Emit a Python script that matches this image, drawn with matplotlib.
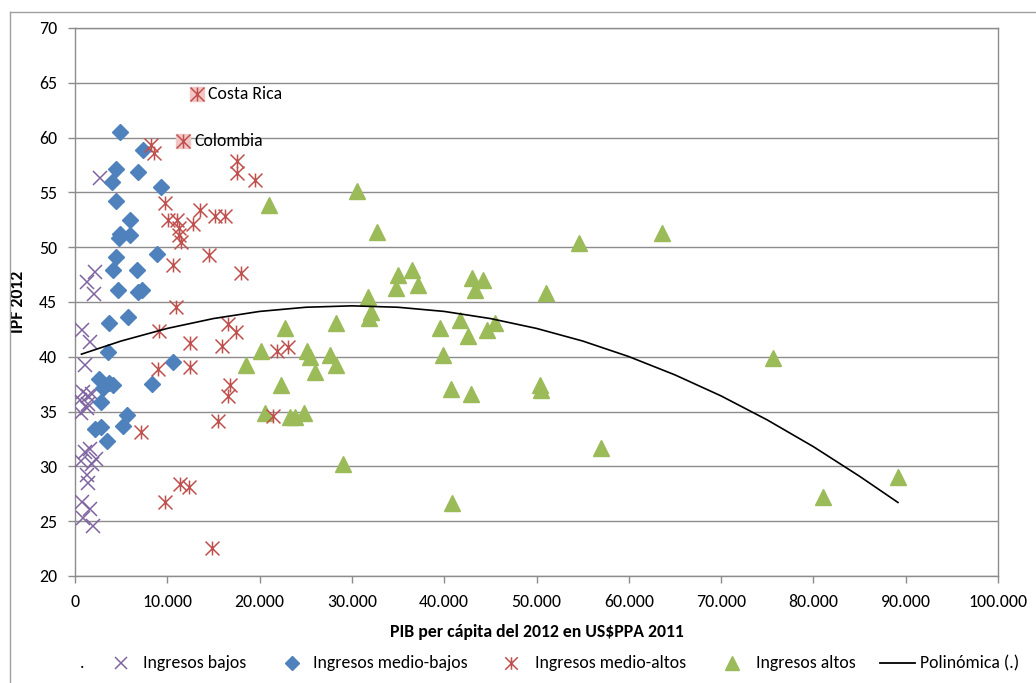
import matplotlib
matplotlib.use("Agg")
import matplotlib.pyplot as plt
from matplotlib.path import Path
from matplotlib.lines import Line2D

plt.rcParams['font.family'] = ['Carlito', 'Lato', 'DejaVu Sans']

# ---------------- data ----------------
x_low = [2740, 2190, 1320, 2090, 760, 1620, 1120, 870, 1420, 500, 1320, 1800, 1620, 1100,
         2230, 700, 1800, 1320, 1420, 760, 1620, 870, 1960, 1400, 650]
y_low = [56.3, 47.75, 46.85, 45.75, 42.45, 41.35, 39.25, 36.75, 36.45, 36.05, 35.35, 36.65,
         31.55, 31.35, 30.65, 30.45, 30.25, 29.25, 28.45, 26.75, 26.15, 25.25, 24.55, 35.65,
         34.85]

x_midlow = [4870, 7320, 4400, 6860, 3970, 9270, 4400, 5950, 4870, 5950, 4790, 4400, 8840, 4150,
            6680, 4690, 6860, 7220, 3720, 5700, 3610, 10640, 2600, 3720, 3070, 8300, 2780,
            5590, 2170, 2780, 5160, 3420, 4070]
y_midlow = [60.55, 58.85, 57.15, 56.85, 55.95, 55.45, 54.25, 52.45, 51.25, 51.15, 50.85, 49.15,
            49.35, 47.95, 47.95, 46.05, 45.95, 46.05, 43.05, 43.65, 40.45, 39.55, 37.95, 37.65,
            37.15, 37.55, 35.85, 34.65, 33.45, 33.55, 33.65, 32.35, 37.45]

x_midhigh = [8230, 8550, 17500, 17500, 19490, 9750, 13530, 15160, 16240, 10100, 11010, 12800,
             11280, 11280, 11440, 14500, 10640, 17980, 10900, 9120, 16590, 17400, 12450, 15880,
             9020, 12450, 16780, 16590, 7150, 15450, 11370, 12340, 9750, 14790, 21480, 21900,
             23030]
y_midhigh = [59.35, 58.55, 57.85, 56.75, 56.15, 54.05, 53.35, 52.85, 52.85, 52.45, 52.45, 52.15,
             51.75, 51.15, 50.45, 49.25, 48.35, 47.65, 44.55, 42.35, 42.95, 42.25, 41.25, 40.95,
             38.85, 39.05, 37.45, 36.45, 33.15, 34.15, 28.35, 28.15, 26.75, 22.55, 34.6, 40.5,
             40.9]

x_high = [30510, 21040, 32740, 35010, 36500, 34730, 37180, 31700, 32020, 31870, 28270, 22740,
          20110, 25090, 25450, 27620, 28270, 25990, 18520, 22280, 20580, 23280, 23830, 24830,
          28990, 42960, 44220, 43320, 50980, 41700, 45490, 39530, 44650, 42590, 39820, 50360,
          50470, 40720, 42850, 40830, 54580, 63650, 56970, 75630, 89160, 81040]
y_high = [55.1, 53.85, 51.4, 47.5, 47.9, 46.25, 46.55, 45.5, 44.1, 43.5, 43.05, 42.6,
          40.55, 40.5, 40.0, 40.15, 39.25, 38.65, 39.25, 37.4, 34.85, 34.5, 34.5, 34.85,
          30.2, 47.15, 47.0, 46.1, 45.85, 43.4, 43.05, 42.6, 42.4, 41.9, 40.2, 37.4,
          37.0, 37.05, 36.6, 26.65, 50.35, 51.3, 31.7, 39.9, 29.0, 27.2]

hl_names = ['Costa Rica', 'Colombia']
hl_x = [13180, 11680]
hl_y = [64.0, 59.7]

trend_x = [700, 5000, 10000, 15000, 20000, 25000, 30000, 35000, 40000, 45000, 50000,
           55000, 60000, 65000, 70000, 75000, 80000, 85000, 89160]
trend_y = [40.24, 41.44, 42.59, 43.49, 44.14, 44.52, 44.65, 44.52, 44.14, 43.49, 42.59,
           41.44, 40.02, 38.35, 36.43, 34.24, 31.80, 29.10, 26.71]

x_ticks = list(range(0, 100001, 10000))
y_ticks = list(range(20, 71, 5))
legend_labels = ['.', 'Ingresos bajos', 'Ingresos medio-bajos', 'Ingresos medio-altos',
                 'Ingresos altos', 'Polinómica (.)']

# ---------------- style ----------------
C_LOW = '#8064A2'
C_MLOW = '#4F81BD'
C_MHIGH = '#C0504D'
C_HIGH = '#9BBB59'
C_GRID = '#8c8c8c'
FS = 12.8

asterisk = Path([(-1, -1), (1, 1), (-1, 1), (1, -1), (0, -1), (0, 1)],
                [Path.MOVETO, Path.LINETO] * 3)

W, H = 1036, 683
fig = plt.figure(figsize=(W / 100, H / 100), dpi=100)
ax = fig.add_axes([75 / W, 1 - 576 / H, (998 - 75) / W, (576 - 28) / H])

ax.plot(x_low, y_low, ls='none', marker='x', ms=10, mew=1.1, color=C_LOW, zorder=3)
ax.plot(x_midlow, y_midlow, ls='none', marker='D', ms=8, color=C_MLOW, mec=C_MLOW, zorder=3)
ax.plot(x_midhigh, y_midhigh, ls='none', marker=asterisk, ms=10, mew=1.1, mfc='none',
        mec=C_MHIGH, zorder=4)
ax.plot(x_high, y_high, ls='none', marker='^', ms=11, color=C_HIGH, mec=C_HIGH, zorder=3)

# highlighted countries
ax.plot(hl_x, hl_y, ls='none', marker='s', ms=10, color='#F2C6C5', mec='#F2C6C5', zorder=4)
ax.plot(hl_x, hl_y, ls='none', marker=asterisk, ms=10, mew=1.1, mfc='none', mec=C_MHIGH,
        zorder=5)
for name, xv, yv in zip(hl_names, hl_x, hl_y):
    ax.annotate(name, (xv, yv), xytext=(8, 0), textcoords='offset points',
                va='center', ha='left', fontsize=FS, color='black', zorder=6)

ax.plot(trend_x, trend_y, color='black', lw=1.2, zorder=6)

ax.set_xlim(0, 100000)
ax.set_ylim(20, 70)
ax.set_xticks(x_ticks)
ax.set_xticklabels([f"{v:,}".replace(',', '.') for v in x_ticks])
ax.set_yticks(y_ticks)
ax.set_yticklabels([str(v) for v in y_ticks])
ax.tick_params(axis='both', direction='out', length=5, width=1, color=C_GRID,
               labelsize=FS, labelcolor='black')
ax.tick_params(axis='y', pad=8)
ax.tick_params(axis='x', pad=8)
ax.yaxis.grid(True, color=C_GRID, lw=1)
ax.xaxis.grid(False)
ax.set_axisbelow(True)
for s in ax.spines.values():
    s.set_color(C_GRID)
    s.set_linewidth(1)

ax.set_xlabel('PIB per cápita del 2012 en US$PPA 2011', fontsize=FS, fontweight='bold',
              labelpad=10)
ax.set_ylabel('IPF 2012', fontsize=FS, fontweight='bold', labelpad=9)

# chart border (cropped)
fig.add_artist(Line2D([10 / W, 1], [1 - 12 / H, 1 - 12 / H], transform=fig.transFigure,
                      color='#a0a0a0', lw=1))
fig.add_artist(Line2D([10 / W, 10 / W], [0, 1 - 12 / H], transform=fig.transFigure,
                      color='#a0a0a0', lw=1))

# legend (manual row)
ly = 1 - 663 / H
fig.text(80 / W, ly, legend_labels[0], fontsize=FS, va='center', ha='left')
handles = [
    dict(marker='x', ms=9, mew=1.1, color=C_LOW, x=121),
    dict(marker='D', ms=7, color=C_MLOW, x=292),
    dict(marker=asterisk, ms=9, mew=1.1, mfc='none', mec=C_MHIGH, x=511),
    dict(marker='^', ms=10, color=C_HIGH, x=732),
]
text_x = [143, 313, 535, 756]
for h, tx, lab in zip(handles, text_x, legend_labels[1:5]):
    hx = h.pop('x')
    fig.add_artist(Line2D([hx / W], [ly], transform=fig.transFigure, ls='none', **h))
    fig.text(tx / W, ly, lab, fontsize=FS, va='center', ha='left')
fig.add_artist(Line2D([880 / W, 915 / W], [ly, ly], transform=fig.transFigure,
                      color='black', lw=1.3))
fig.text(920 / W, ly, legend_labels[5], fontsize=FS, va='center', ha='left')

fig.savefig('out.png', dpi=100)
